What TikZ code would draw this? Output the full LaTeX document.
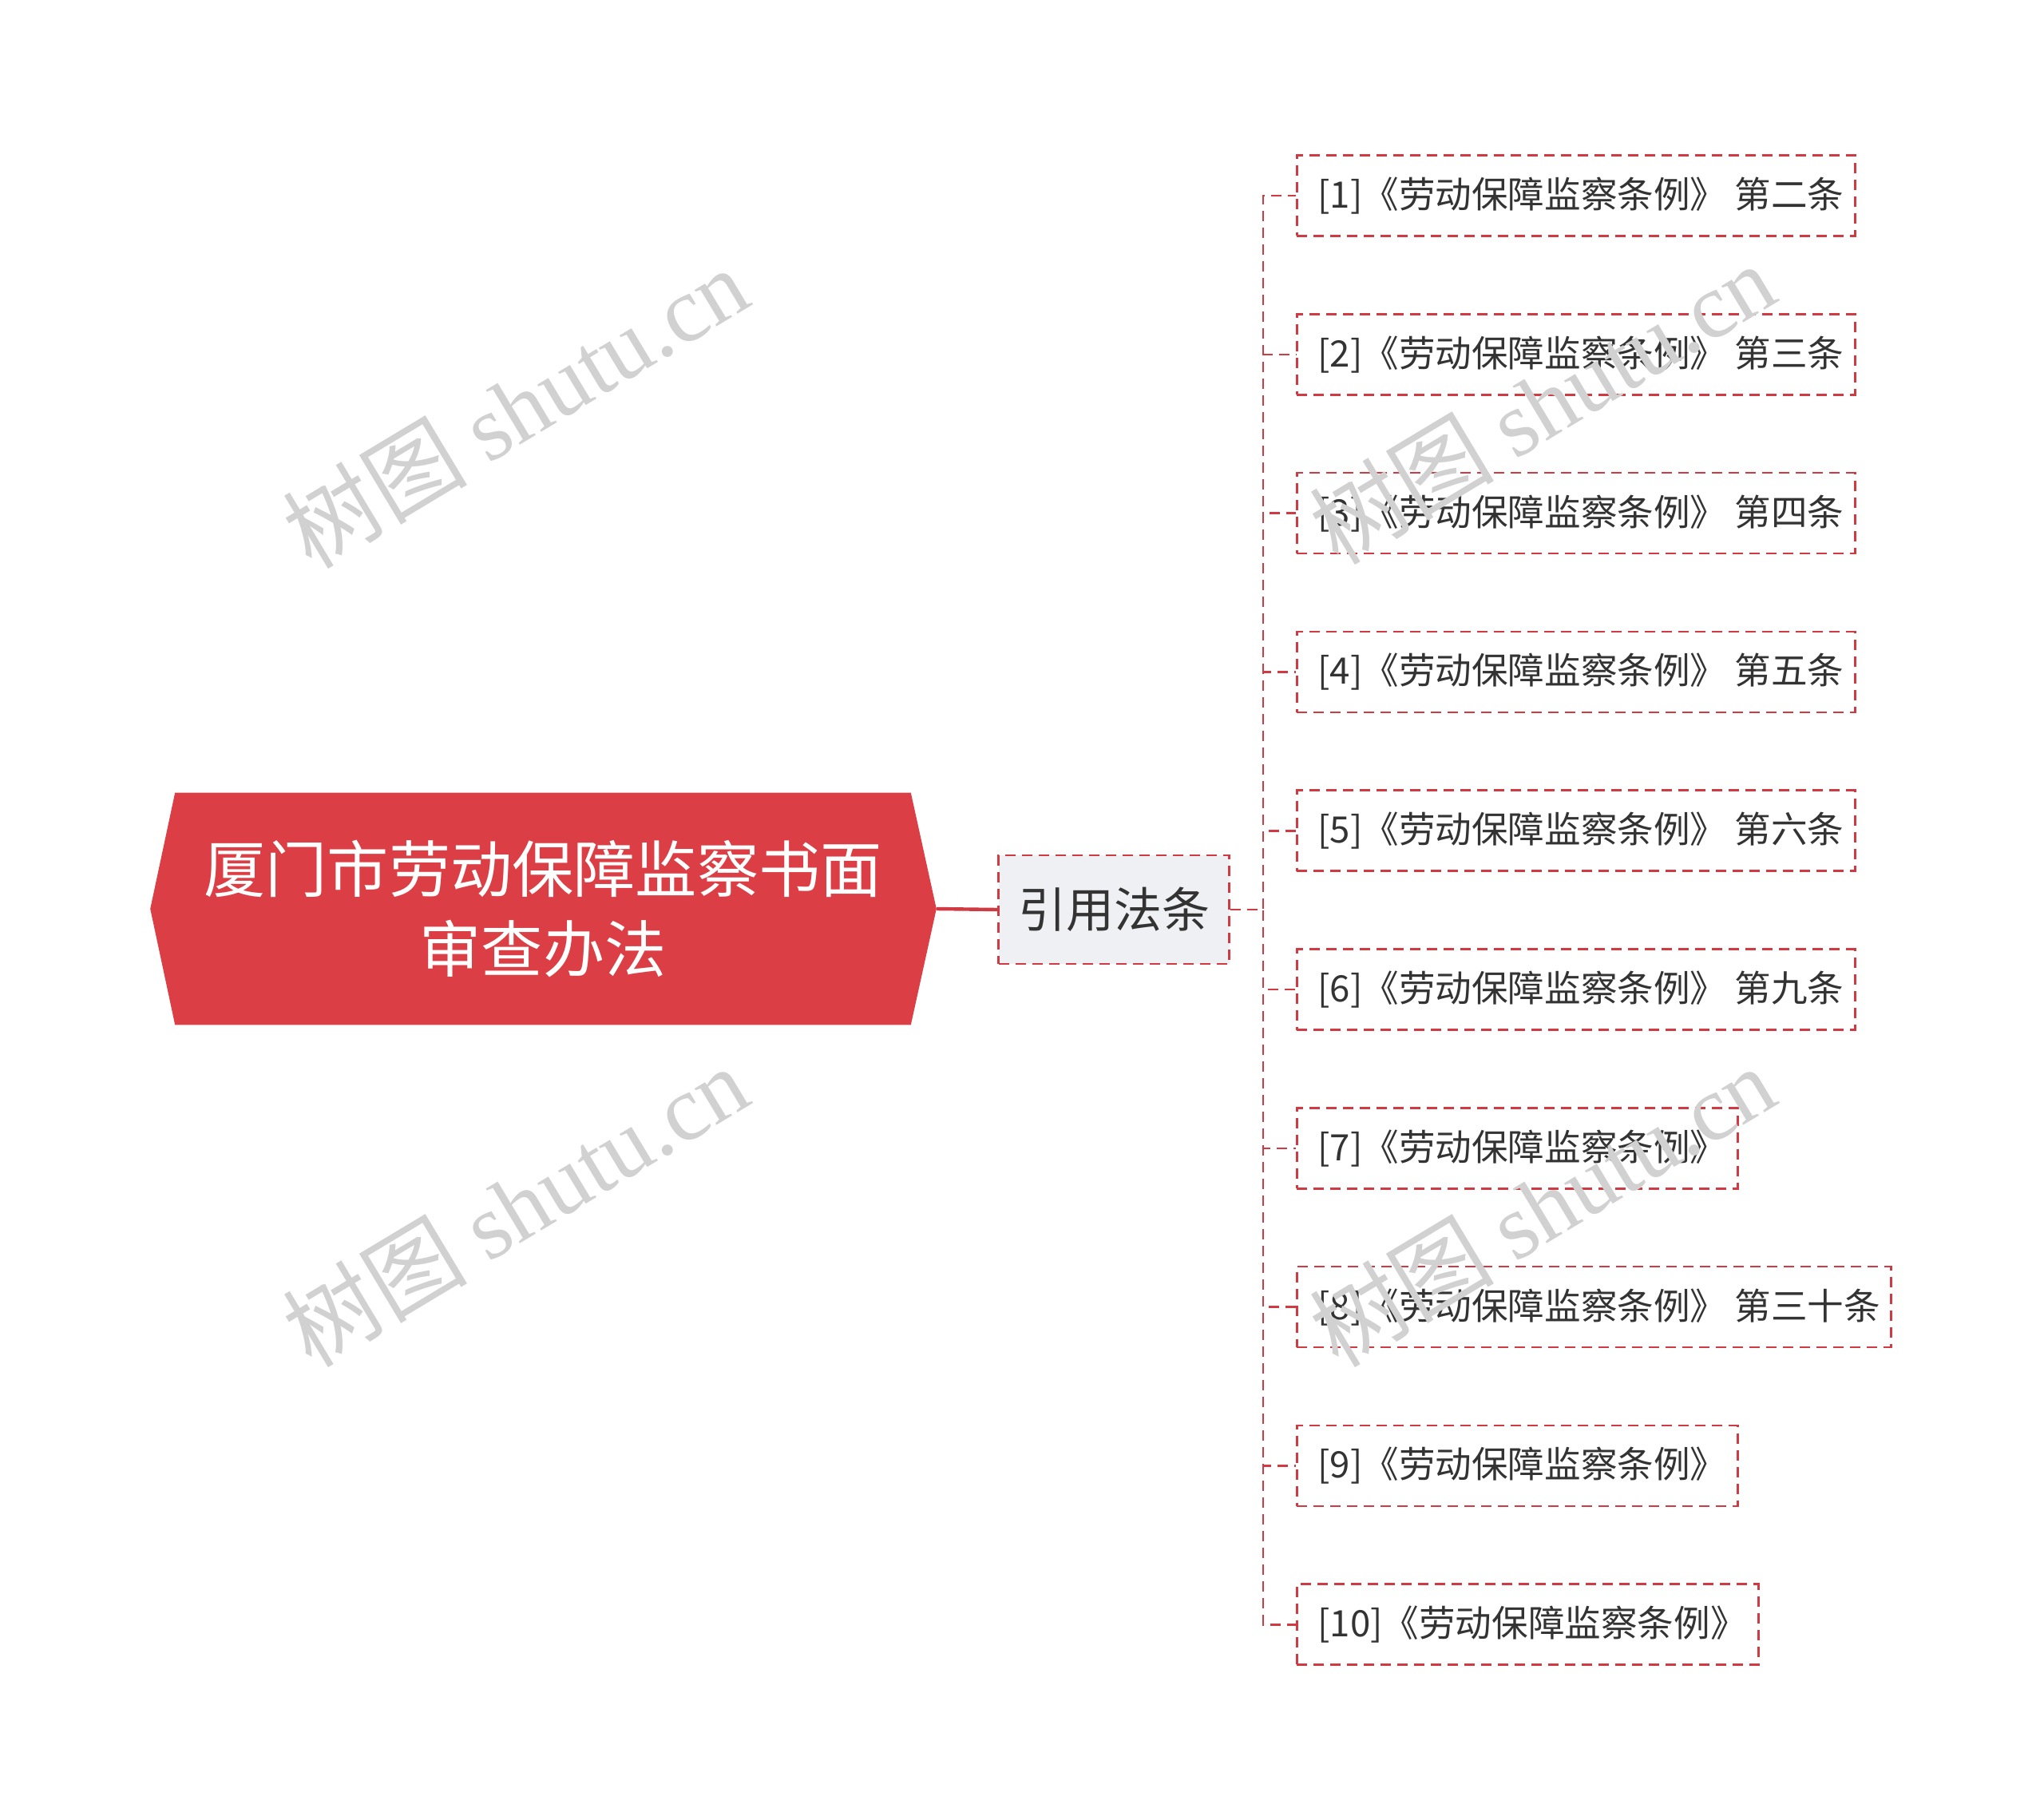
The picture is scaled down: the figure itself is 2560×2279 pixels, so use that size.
\documentclass[tikz,border=0pt]{standalone}
\usepackage{fontspec}
\setmainfont{Noto Sans CJK SC}
\newfontfamily\wmfont{Liberation Serif}
\usetikzlibrary{calc,positioning,backgrounds}
\definecolor{rootred}{HTML}{DC3E45}
\definecolor{linered}{HTML}{D03A42}
\definecolor{midgray}{HTML}{EEF0F3}
\definecolor{txtgray}{HTML}{333333}

\begin{document}
\begin{tikzpicture}[x=0.25pt,y=-0.25pt,
  dashline/.style={draw=linered,line width=0.65pt,dash pattern=on 3.25pt off 2pt},
  rootbox/.style={minimum width=230pt,minimum height=72.25pt,align=center,text=white,font=\fontsize{19.3}{25}\selectfont},
  midbox/.style={dashline,fill=midgray,minimum width=72.25pt,minimum height=34pt,text=txtgray,font=\fontsize{15}{18}\selectfont},
  leafbox/.style={dashline,anchor=west,minimum height=25.25pt,inner xsep=6.5pt,text=txtgray,font=\fontsize{11.4}{14}\selectfont},
  wmark/.style={text=black!18,rotate=31,font=\fontsize{29}{29}\selectfont}]

\useasboundingbox (0,0) rectangle (2560,2279);

% root
\node[rootbox] (root) at (680,1138) {厦门市劳动保障监察书面\\审查办法};
\begin{scope}[on background layer]
\fill[rootred] (root.north west) -- (root.north east) -- ($(root.east)+(8pt,0)$)
  -- (root.south east) -- (root.south west) -- ($(root.west)+(-7.75pt,0)$) -- cycle;
\end{scope}
\coordinate (roottip) at ($(root.east)+(8pt,0)$);

\node[midbox] (mid) at (1395,1139) {引用法条};
\draw[linered,line width=1.1pt] (roottip) -- (mid.west);

\coordinate (trunk) at (1582,1139);

\foreach \i/\txt/\w in {1/{[1]《劳动保障监察条例》 第二条}/161.75,
                        2/{[2]《劳动保障监察条例》 第三条}/161.75,
                        3/{[3]《劳动保障监察条例》 第四条}/161.75,
                        4/{[4]《劳动保障监察条例》 第五条}/161.75,
                        5/{[5]《劳动保障监察条例》 第六条}/161.75,
                        6/{[6]《劳动保障监察条例》 第九条}/161.75,
                        7/{[7]《劳动保障监察条例》}/125,
                        8/{[8]《劳动保障监察条例》 第三十条}/173,
                        9/{[9]《劳动保障监察条例》}/125,
                        10/{[10]《劳动保障监察条例》}/131.5}
{
  \node[leafbox] (leaf\i) at (1623,{245+198.8*(\i-1)}) {\makebox[\w pt][l]{\txt}};
  \draw[dashline] (mid.east) -- (trunk) |- (leaf\i.west);
}

% watermarks
\node[wmark] (wm1) at (645,510) {树图 {\wmfont shutu.cn}};
\node[wmark] (wm2) at (645,1510) {树图 {\wmfont shutu.cn}};
\node[wmark] (wm3) at (1931,505) {树图 {\wmfont shutu.cn}};
\node[wmark] (wm4) at (1931,1510) {树图 {\wmfont shutu.cn}};

\end{tikzpicture}
\end{document}
